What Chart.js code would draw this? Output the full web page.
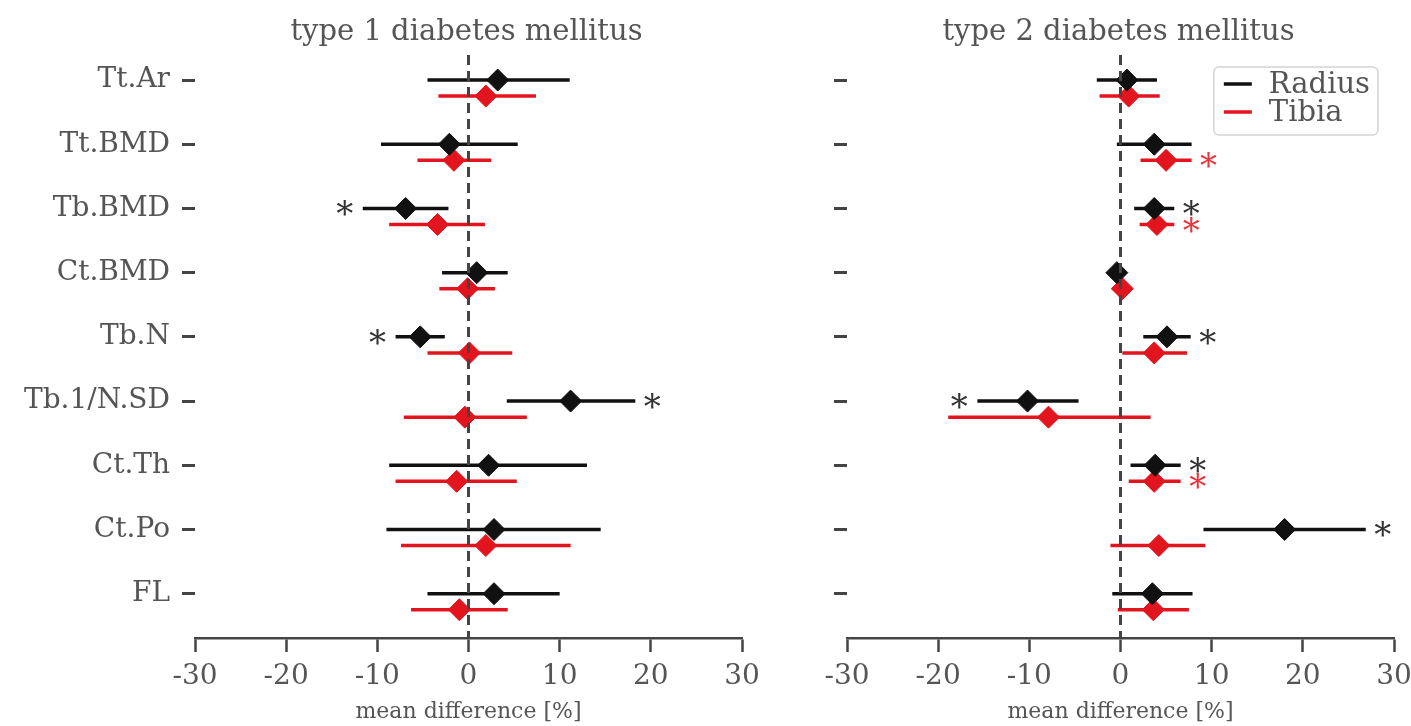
<!DOCTYPE html>
<html>
<head>
<meta charset="utf-8">
<title>Diabetes mellitus: HR-pQCT mean differences</title>
<script src="https://cdn.jsdelivr.net/npm/chart.js@4.4.1/dist/chart.umd.min.js"></script>
<style>
  html, body { margin: 0; padding: 0; background: #fff; overflow: hidden; }
  body { width: 1411px; height: 726px; position: relative; }
  canvas { position: absolute; top: 0; }
  #t1 { left: 0; }
  #t2 { left: 770px; }
</style>
</head>
<body>
<canvas id="t1" width="770" height="726"></canvas>
<canvas id="t2" width="660" height="726"></canvas>
<script>
// bone parameters, top to bottom
const parameters = ['Tt.Ar', 'Tt.BMD', 'Tb.BMD', 'Ct.BMD', 'Tb.N', 'Tb.1/N.SD', 'Ct.Th', 'Ct.Po', 'FL'];
const xTicks = [-30, -20, -10, 0, 10, 20, 30];
const seriesNames = ['Radius', 'Tibia'];

// type 1 diabetes: mean difference [%] with 95% CI
const t1RadiusMean = [3.2, -2.1, -6.9, 0.9, -5.3, 11.2, 2.2, 2.8, 2.8];
const t1RadiusLo   = [-4.5, -9.6, -11.6, -2.9, -8.0, 4.2, -8.7, -9.0, -4.5];
const t1RadiusHi   = [11.1, 5.4, -2.2, 4.3, -2.6, 18.3, 13.0, 14.5, 10.0];
const t1RadiusSig  = [0, 0, 1, 0, 1, 1, 0, 0, 0];
const t1TibiaMean  = [1.9, -1.6, -3.4, -0.1, 0.1, -0.4, -1.3, 1.9, -1.0];
const t1TibiaLo    = [-3.3, -5.6, -8.7, -3.2, -4.5, -7.1, -8.0, -7.4, -6.3];
const t1TibiaHi    = [7.4, 2.5, 1.8, 2.9, 4.8, 6.4, 5.3, 11.2, 4.3];
const t1TibiaSig   = [0, 0, 0, 0, 0, 0, 0, 0, 0];

// type 2 diabetes
const t2RadiusMean = [0.7, 3.7, 3.7, -0.4, 5.1, -10.2, 3.8, 18.0, 3.5];
const t2RadiusLo   = [-2.6, -0.4, 1.5, -0.9, 2.5, -15.7, 1.1, 9.1, -0.9];
const t2RadiusHi   = [4.0, 7.8, 5.9, 0.1, 7.7, -4.6, 6.6, 26.9, 7.9];
const t2RadiusSig  = [0, 0, 1, 0, 1, 1, 1, 1, 0];
const t2TibiaMean  = [0.9, 5.0, 4.0, 0.2, 3.7, -7.9, 3.7, 4.2, 3.6];
const t2TibiaLo    = [-2.3, 2.2, 2.1, -0.3, 0.2, -18.9, 0.9, -1.1, -0.3];
const t2TibiaHi    = [4.3, 7.8, 5.9, 0.7, 7.3, 3.3, 6.6, 9.3, 7.5];
const t2TibiaSig   = [0, 1, 1, 0, 0, 0, 1, 0, 0];

const FONT = "'DejaVu Serif', serif";
const TEXT = '#555555';
const AXIS = '#444444';
const seriesColors = ['#111111', '#e2141e'];
const starColors = ['#333333', '#e8353d'];
const tibiaShift = 0.25;   // tibia row sits a bit below the radius row

// one [lo, hi] segment per parameter, broken apart by empty points
function ciSegments(lo, hi, shift) {
  const pts = [];
  lo.forEach((v, i) => {
    pts.push({ x: v, y: i + shift }, { x: hi[i], y: i + shift }, { x: null, y: null });
  });
  return pts;
}

function meanPoints(mean, shift) {
  return mean.map((v, i) => ({ x: v, y: i + shift }));
}

// zero line, significance stars, panel title and legend box
function decorations(title, groups, showLegend) {
  return {
    id: 'decorations',
    afterDatasetsDraw(chart) {
      const { ctx, chartArea: a, scales: { x, y } } = chart;
      ctx.save();

      const x0 = x.getPixelForValue(0);
      ctx.strokeStyle = AXIS;
      ctx.lineWidth = 3;
      ctx.setLineDash([10, 6]);
      ctx.beginPath();
      ctx.moveTo(x0, a.top);
      ctx.lineTo(x0, a.bottom);
      ctx.stroke();
      ctx.setLineDash([]);

      ctx.font = '34px ' + FONT;
      ctx.textAlign = 'center';
      ctx.textBaseline = 'alphabetic';
      groups.forEach((g, s) => {
        g.sig.forEach((on, i) => {
          if (!on) return;
          const py = y.getPixelForValue(i + s * tibiaShift);
          const px = g.mean[i] < 0
            ? x.getPixelForValue(g.lo[i]) - 18
            : x.getPixelForValue(g.hi[i]) + 17;
          ctx.fillStyle = starColors[s];
          ctx.fillText('*', px, py + 17);
        });
      });

      ctx.fillStyle = TEXT;
      ctx.font = '29px ' + FONT;
      ctx.fillText(title, (a.left + a.right) / 2 - 2, 40);

      if (showLegend) {
        ctx.font = '29px ' + FONT;
        const tw = Math.max(...seriesNames.map(n => ctx.measureText(n).width));
        const w = 10 + 28 + 17 + tw + 8, h = 68;
        const bx = a.right - 16 - w, by = a.top + 12;
        ctx.fillStyle = 'rgba(255,255,255,0.85)';
        ctx.strokeStyle = '#d4d4d4';
        ctx.lineWidth = 1.5;
        ctx.beginPath();
        ctx.roundRect(bx, by, w, h, 5);
        ctx.fill();
        ctx.stroke();
        ctx.textAlign = 'left';
        ctx.textBaseline = 'middle';
        seriesNames.forEach((n, k) => {
          const cy = by + 17 + k * 28;
          ctx.strokeStyle = seriesColors[k];
          ctx.lineWidth = 3.5;
          ctx.beginPath();
          ctx.moveTo(bx + 10, cy);
          ctx.lineTo(bx + 38, cy);
          ctx.stroke();
          ctx.fillStyle = TEXT;
          ctx.fillText(n, bx + 55, cy + 1);
        });
      }
      ctx.restore();
    }
  };
}

function panel(canvasId, title, groups, opts) {
  const datasets = [];
  groups.forEach((g, s) => {
    datasets.push({
      label: seriesNames[s] + ' mean',
      data: meanPoints(g.mean, s * tibiaShift),
      showLine: false,
      pointStyle: 'rectRot',
      pointRadius: 11,
      pointBackgroundColor: seriesColors[s],
      pointBorderColor: seriesColors[s],
      pointBorderWidth: 1,
      order: 0
    });
    datasets.push({
      label: seriesNames[s] + ' CI',
      data: ciSegments(g.lo, g.hi, s * tibiaShift),
      borderColor: seriesColors[s],
      borderWidth: 3.5,
      pointRadius: 0,
      fill: false,
      tension: 0,
      spanGaps: false,
      order: 1
    });
  });

  return new Chart(document.getElementById(canvasId), {
    type: 'line',
    data: { datasets },
    options: {
      responsive: false,
      animation: false,
      events: [],
      layout: { padding: { top: 55, left: 0, right: opts.padRight, bottom: 0 } },
      plugins: { legend: { display: false }, tooltip: { enabled: false } },
      scales: {
        x: {
          type: 'linear',
          min: -30,
          max: 30,
          afterBuildTicks: s => { s.ticks = xTicks.map(v => ({ value: v })); },
          afterFit: s => { s.height = 88; },
          border: { display: true, color: AXIS, width: 2.5 },
          grid: { drawOnChartArea: false, drawTicks: true, tickLength: 14, tickColor: AXIS, tickWidth: 2.5 },
          ticks: { color: TEXT, font: { family: FONT, size: 28 }, padding: 8, maxRotation: 0 },
          title: {
            display: true,
            text: 'mean difference [%]',
            color: TEXT,
            font: { family: FONT, size: 22 },
            padding: { top: 0, bottom: 1 }
          }
        },
        y: {
          type: 'linear',
          reverse: true,
          min: -0.39,
          max: 8.69,
          afterBuildTicks: s => { s.ticks = parameters.map((_, i) => ({ value: i })); },
          afterFit: s => { s.width = opts.axisWidth; },
          border: { display: false },
          grid: { drawOnChartArea: false, drawTicks: true, tickLength: 13, tickColor: AXIS, tickWidth: 3 },
          ticks: {
            color: TEXT,
            font: { family: FONT, size: 28 },
            padding: 12,
            callback: v => (opts.labels ? parameters[v] : '')
          }
        }
      }
    },
    plugins: [decorations(title, groups, opts.legend)]
  });
}

panel('t1', 'type 1 diabetes mellitus', [
  { mean: t1RadiusMean, lo: t1RadiusLo, hi: t1RadiusHi, sig: t1RadiusSig },
  { mean: t1TibiaMean, lo: t1TibiaLo, hi: t1TibiaHi, sig: t1TibiaSig }
], { axisWidth: 195, padRight: 28, labels: true, legend: false });

panel('t2', 'type 2 diabetes mellitus', [
  { mean: t2RadiusMean, lo: t2RadiusLo, hi: t2RadiusHi, sig: t2RadiusSig },
  { mean: t2TibiaMean, lo: t2TibiaLo, hi: t2TibiaHi, sig: t2TibiaSig }
], { axisWidth: 77, padRight: 36, labels: false, legend: true });
</script>
</body>
</html>
